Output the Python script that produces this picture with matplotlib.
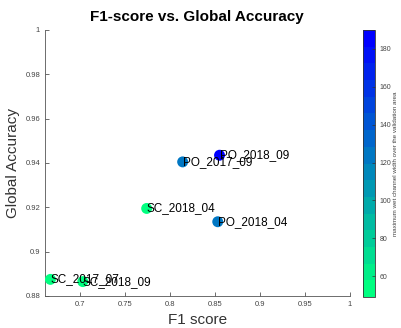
import matplotlib
matplotlib.use("Agg")
import matplotlib.pyplot as plt
from matplotlib.colors import LinearSegmentedColormap
import numpy as np

labels = ["SC_2017_07", "SC_2018_09", "SC_2018_04", "PO_2017_09", "PO_2018_09", "PO_2018_04"]
f1 = [0.667, 0.703, 0.774, 0.814, 0.855, 0.853]
acc = [0.8875, 0.8865, 0.9195, 0.9405, 0.9435, 0.9135]
width = [49, 52, 56, 125, 190, 120]

xticks = [0.7, 0.75, 0.8, 0.85, 0.9, 0.95, 1]
yticks = [0.88, 0.9, 0.92, 0.94, 0.96, 0.98, 1]
cticks = [60, 80, 100, 120, 140, 160, 180]

plt.rcParams['font.family'] = ['Liberation Sans', 'DejaVu Sans']
winter = LinearSegmentedColormap.from_list("winter", [(0, 1, 0.5), (0, 0, 1)], N=16)

fig = plt.figure(figsize=(4.02, 3.28), dpi=100)
ax = fig.add_axes([45/402, 1-296/328, 305/402, 266/328])
sc = ax.scatter(f1, acc, c=width, cmap=winter, vmin=49, vmax=190, s=62, zorder=3, linewidths=0)
for x, y, t in zip(f1, acc, labels):
    ax.text(x, y, t, fontsize=8.5, va='center', ha='left', color='black', zorder=4)

ax.set_xlim(0.661, 1)
ax.set_ylim(0.88, 1)
ax.set_xticks(xticks)
ax.set_xticklabels([f"{v:g}" for v in xticks])
ax.set_yticks(yticks)
ax.set_yticklabels([f"{v:g}" for v in yticks])
for s in ['top', 'right']:
    ax.spines[s].set_visible(False)
for s in ['left', 'bottom']:
    ax.spines[s].set_color('#555555')
    ax.spines[s].set_linewidth(0.6)
ax.tick_params(direction='in', length=3, width=0.6, colors='#555555', labelsize=5.5, labelcolor='#444444')
ax.set_xlabel("F1 score", fontsize=11, color='#333333', labelpad=4)
ax.set_ylabel("Global Accuracy", fontsize=11, color='#333333', labelpad=4)
fig.text(197/402, 1-17/328, "F1-score vs. Global Accuracy", fontsize=11, fontweight='bold', ha='center', va='center')

cax = fig.add_axes([363/402, 1-297/328, 12/402, 267/328])
cb = fig.colorbar(sc, cax=cax, ticks=cticks)
cb.outline.set_linewidth(0.6)
cb.outline.set_edgecolor('#333333')
cax.tick_params(direction='in', length=2, width=0.5, labelsize=5, colors='#333333', labelcolor='#444444')
cb.set_label("maximum wet channel width over the validation area", fontsize=4.5, color='#444444', labelpad=1)

fig.savefig("out.png", dpi=100)
